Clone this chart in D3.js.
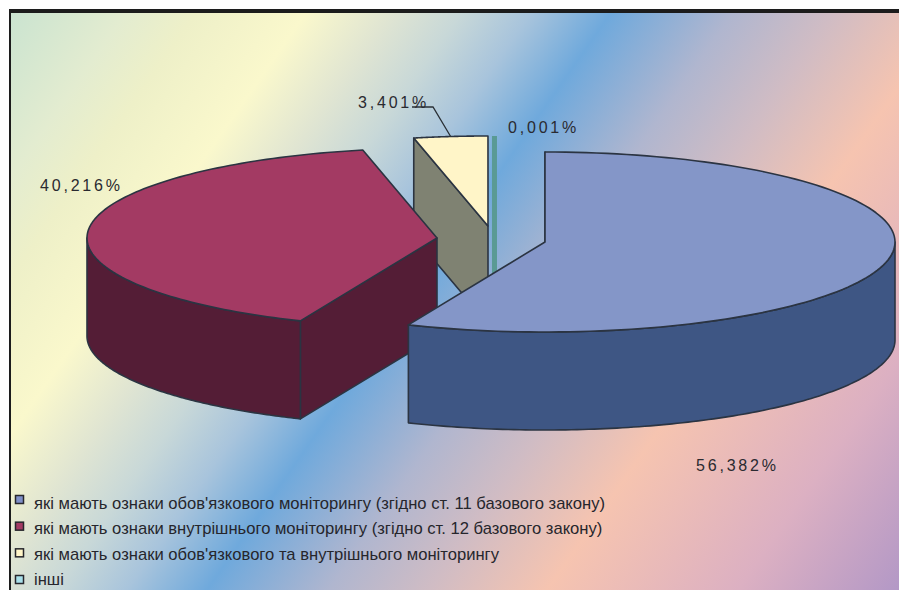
<!DOCTYPE html>
<html>
<head>
<meta charset="utf-8">
<script src="https://cdn.jsdelivr.net/npm/d3@7"></script>
<style>
  html, body { margin: 0; padding: 0; background: #fff; }
  svg { display: block; }
  text { font-family: "Liberation Sans", Arial, sans-serif; }
</style>
</head>
<body>
<svg id="chart" width="899" height="590"></svg>
<script>
// Shares of monitored transactions, per cent
const categories = [
  "які мають ознаки обов'язкового моніторингу (згідно ст. 11 базового закону)",
  "які мають ознаки внутрішнього моніторингу (згідно ст. 12 базового закону)",
  "які мають ознаки обов'язкового та внутрішнього моніторингу",
  "інші"
];
const shares = [56.382, 40.216, 3.401, 0.001];
const shareLabels = ["56,382%", "40,216%", "3,401%", "0,001%"];

const topColors = ["#8496c8", "#a33a63", "#fff5c8", "#5a9a94"];
const wallColors = ["#3e5684", "#541d36", "#7f8272", "#5a9a94"];
const swatchColors = ["#7f8fc8", "#a33a63", "#fff5c8", "#a9e0ea"];

// Where each exploded slice has its tip
const sliceTipX = [545, 437, 488, 494.5];
const sliceTipY = [242, 238, 226, 226];
const labelX = [696, 40, 358, 508];
const labelY = [471, 191, 108, 133];

const rx = 350, ry = 90, depth = 98;
const outline = "#2b3442";

const svg = d3.select("#chart");

// Diagonal colour wash behind the chart
const washOffsets = [0, 135, 205, 315, 400, 470, 540, 620, 742, 842, 960, 1150, 1312];
const washColors = ["#c6e2d0", "#e3ecd0", "#eef0c8", "#faf8cc", "#e0e5d2", "#c8d8d8", "#a8c4dc",
                    "#6fa9dc", "#b0b6cf", "#d0bcc4", "#f6c4b0", "#dcb0c2", "#b398c6"];
const washEnd = 1312;
const wash = svg.append("defs").append("linearGradient")
  .attr("id", "wash")
  .attr("gradientUnits", "userSpaceOnUse")
  .attr("x1", 0).attr("y1", 0)
  .attr("x2", washEnd / 1.49).attr("y2", washEnd / 1.49 * 0.7);
wash.selectAll("stop").data(washOffsets).join("stop")
  .attr("offset", d => d / washEnd)
  .attr("stop-color", (d, i) => washColors[i]);

svg.append("rect").attr("x", 9).attr("y", 9).attr("width", 890).attr("height", 581).attr("fill", "#1c1c1c");
svg.append("rect").attr("x", 11).attr("y", 13).attr("width", 888).attr("height", 577).attr("fill", "url(#wash)");

// Pie angles run clockwise from twelve o'clock
const arcs = d3.pie().sort(null).value(d => d)(shares);
const project = (i, angle, drop = 0) => [
  sliceTipX[i] + rx * Math.sin(angle),
  sliceTipY[i] - ry * Math.cos(angle) + drop
];
const arcPoints = (i, a0, a1, drop = 0) => {
  const t = d3.scaleLinear().domain([0, 1]).range([a0, a1]);
  return d3.range(0, 1.0001, 1 / 120).map(u => project(i, t(u), drop));
};
const line = d3.line();
const closed = pts => line(pts) + "Z";
const tip = (i, drop = 0) => [sliceTipX[i], sliceTipY[i] + drop];

// Back-to-front paint order so the exploded slices overlap correctly
[3, 2, 1, 0].forEach(i => {
  const { startAngle: a0, endAngle: a1 } = arcs[i];
  const g = svg.append("g").attr("stroke-linejoin", "round");

  // A vanishingly small share is shown as a plain band
  if (a1 - a0 < 0.01) {
    g.append("path")
      .attr("d", line([project(i, a0), tip(i, depth)]))
      .attr("fill", "none").attr("stroke", topColors[i]).attr("stroke-width", 5);
    return;
  }

  // Cut face along the starting radius
  g.append("path")
    .attr("d", closed([tip(i), project(i, a0), project(i, a0, depth), tip(i, depth)]))
    .attr("fill", wallColors[i]).attr("stroke", outline).attr("stroke-width", 1.6);

  // Curved rim on the near half of the ellipse
  const near0 = Math.max(a0, Math.PI / 2), near1 = Math.min(a1, Math.PI * 1.5);
  if (near1 > near0) {
    g.append("path")
      .attr("d", closed(arcPoints(i, near0, near1).concat(arcPoints(i, near1, near0, depth))))
      .attr("fill", wallColors[i]).attr("stroke", outline).attr("stroke-width", 1.6);
  }

  g.append("path")
    .attr("d", closed([tip(i)].concat(arcPoints(i, a0, a1))))
    .attr("fill", topColors[i]).attr("stroke", outline).attr("stroke-width", 1.6);
});

// Leader from the small slice to its label
const leadAngle = (arcs[2].startAngle + arcs[2].endAngle) / 2;
const leadEnd = project(2, leadAngle);
svg.append("path")
  .attr("d", line([[labelX[2] + 54, labelY[2] - 1], [labelX[2] + 75, labelY[2] - 1], leadEnd]))
  .attr("fill", "none").attr("stroke", "#2a3036").attr("stroke-width", 1.3);

svg.selectAll("text.share").data(shareLabels).join("text")
  .attr("class", "share")
  .attr("x", (d, i) => labelX[i]).attr("y", (d, i) => labelY[i])
  .attr("font-size", 16).attr("letter-spacing", 2.8)
  .attr("fill", "#2a2a30")
  .text(d => d);

// Legend
const rowIndex = d3.range(categories.length);
const swatchY = d3.scalePoint().domain(rowIndex).range([500, 580]);
const textY = d3.scalePoint().domain(rowIndex).range([509, 585]);
const legend = svg.append("g");
legend.selectAll("rect").data(categories).join("rect")
  .attr("x", 15.5).attr("y", (d, i) => swatchY(i) - 4.5).attr("width", 8).attr("height", 8)
  .attr("fill", (d, i) => swatchColors[i]).attr("stroke", "#26262c").attr("stroke-width", 1.5);
legend.selectAll("text").data(categories).join("text")
  .attr("x", 34).attr("y", (d, i) => textY(i))
  .attr("font-size", 16.6).attr("fill", "#26262c")
  .text(d => d);
</script>
</body>
</html>
